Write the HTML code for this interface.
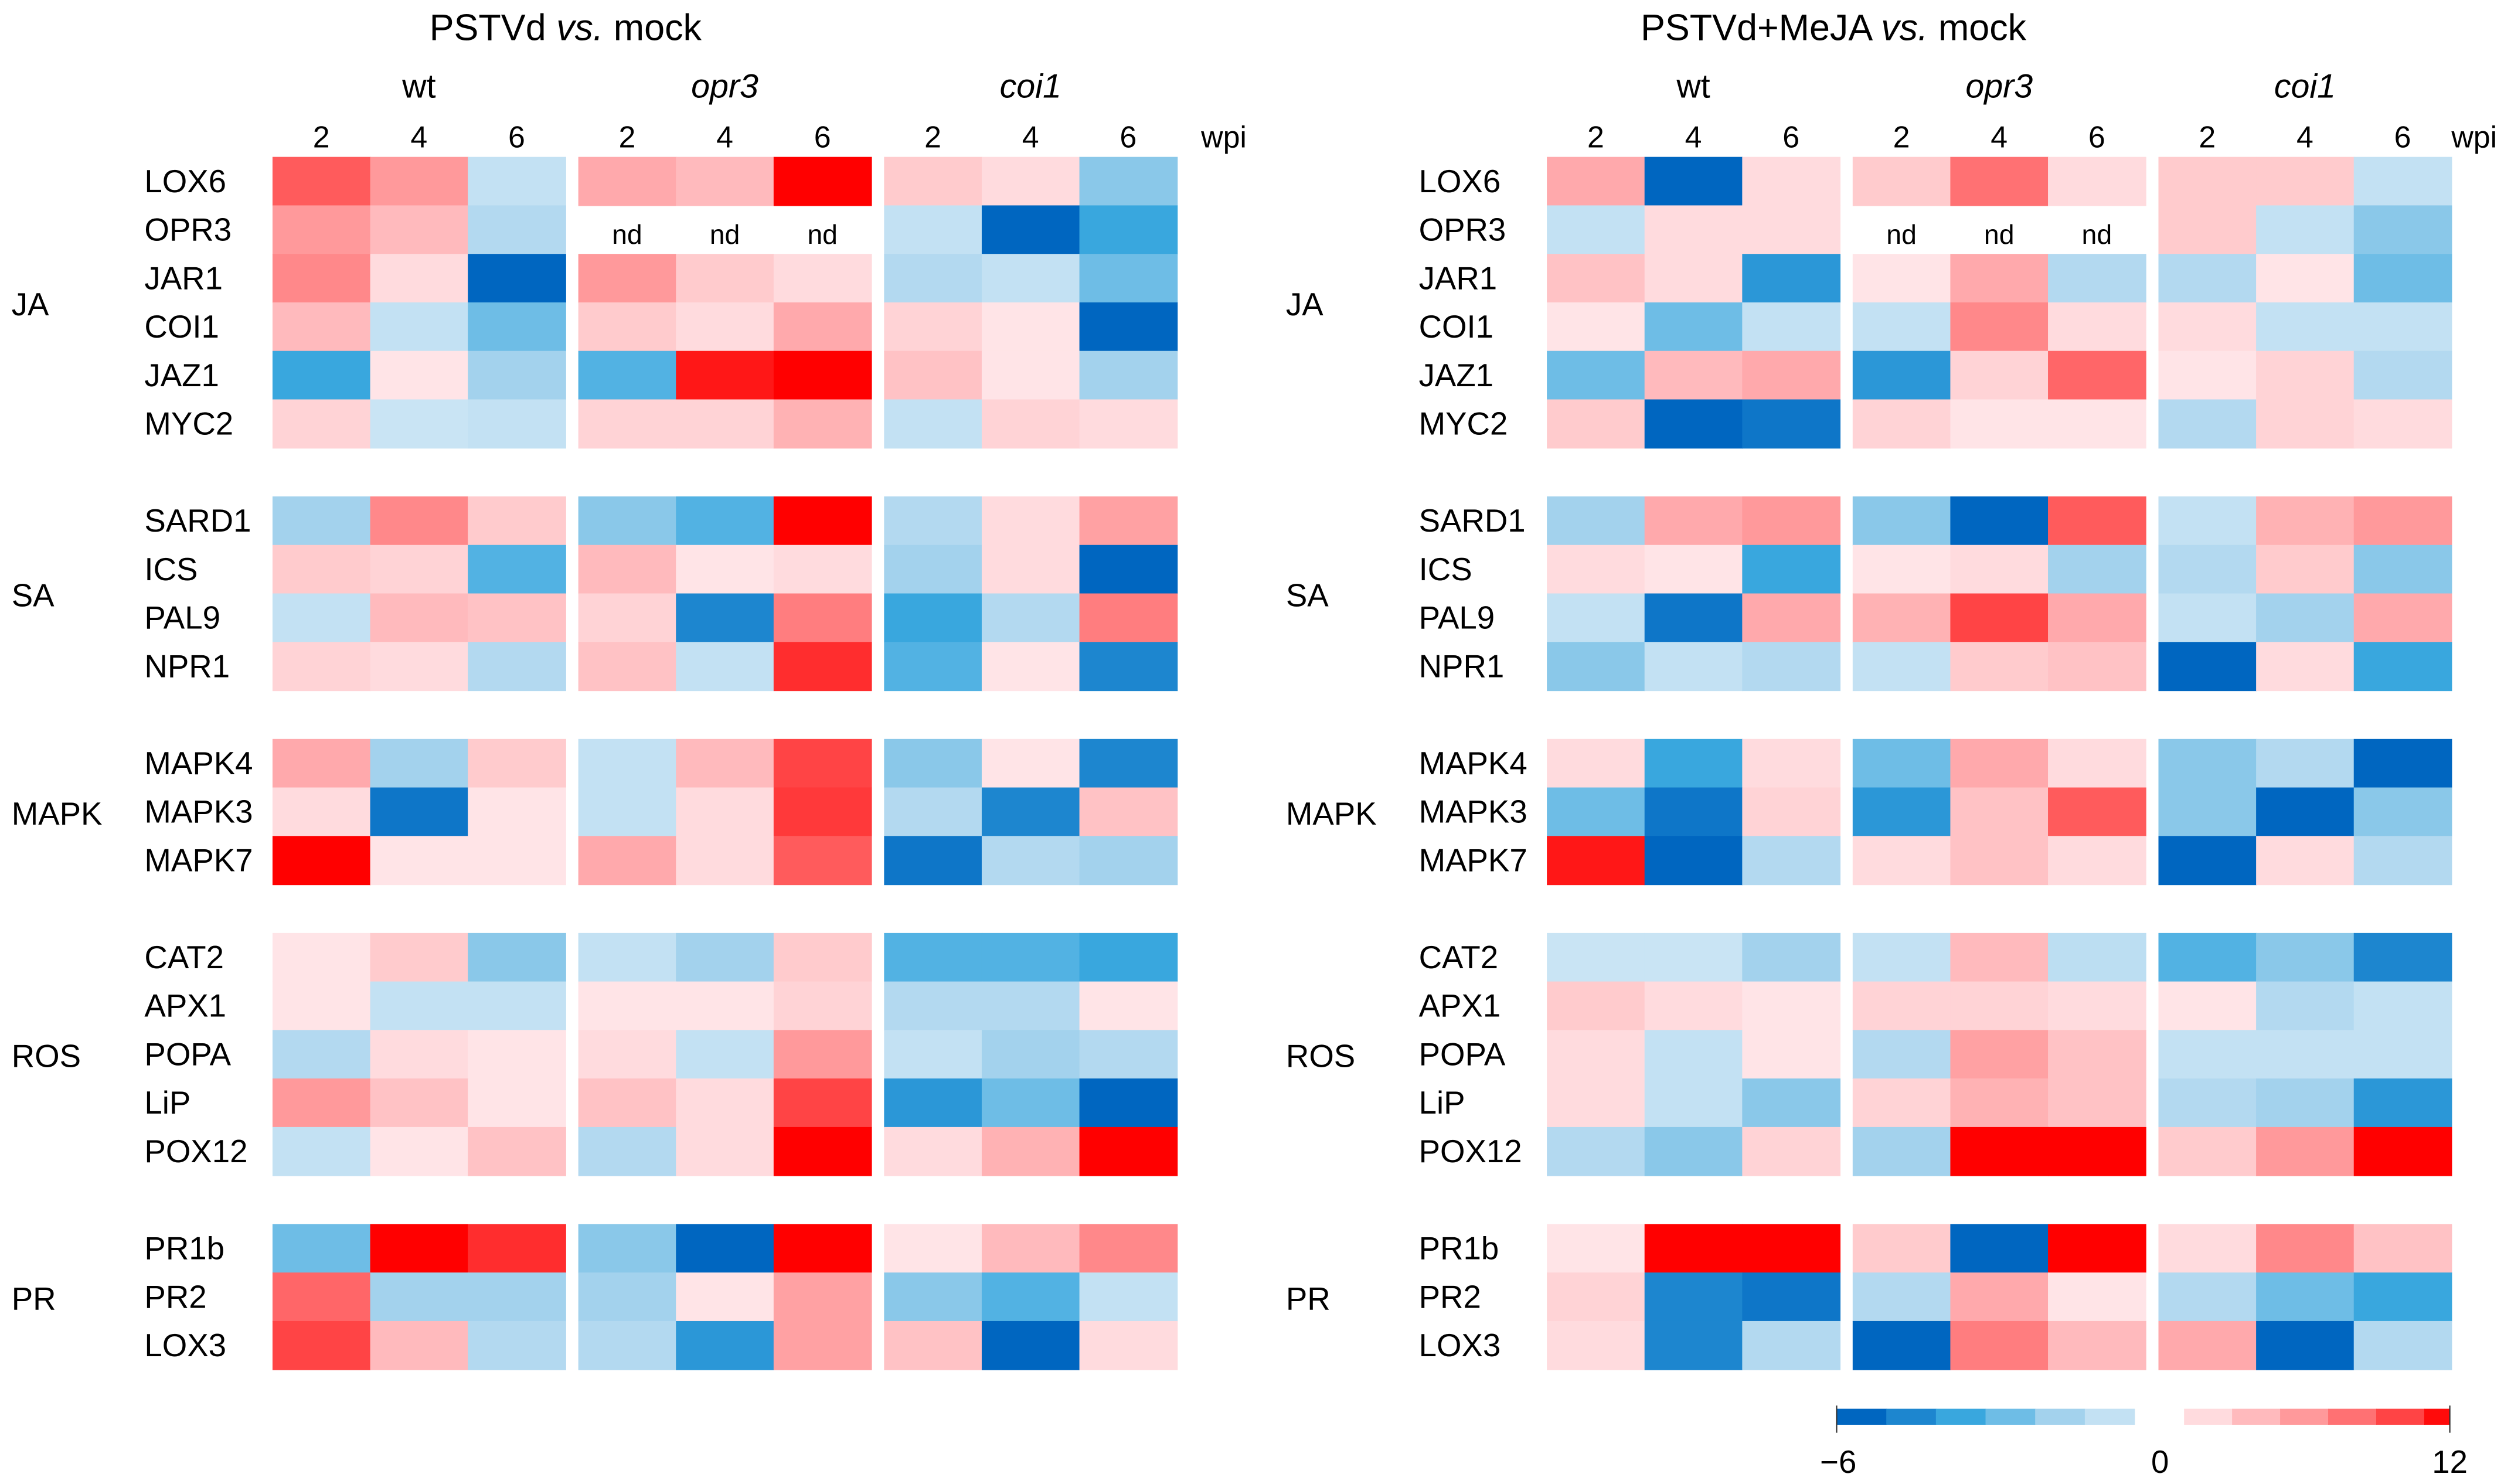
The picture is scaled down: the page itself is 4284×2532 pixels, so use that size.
<!DOCTYPE html>
<html><head><meta charset="utf-8"><style>html,body{margin:0;padding:0;background:#fff}svg{display:block}</style></head>
<body>
<svg id="chart" xmlns="http://www.w3.org/2000/svg" width="4284" height="2532" viewBox="0 0 1568 927" font-family="Liberation Sans, sans-serif">
<rect width="1568" height="927" fill="#fff"/>
</svg>
<script>
const genes = ["LOX6","OPR3","JAR1","COI1","JAZ1","MYC2","SARD1","ICS","PAL9","NPR1","MAPK4","MAPK3","MAPK7","CAT2","APX1","POPA","LiP","POX12","PR1b","PR2","LOX3"];
const rowIndex = [0,1,2,3,4,5,7,8,9,10,12,13,14,16,17,18,19,20,22,23,24];
const groups = ["JA","SA","MAPK","ROS","PR"];
const genotypes = ["wt","opr3","coi1"];
const times = ["2","4","6"];
const leftValues = [
[8,5,-1, 4,3,12, 2,1,-2.5],
[5,3,-1.5, null,null,null, -1,-6,-4],
[6,1,-6, 5,2,1, -1.5,-1,-3],
[3,-1,-3, 2,1,4, 1.5,0.5,-6],
[-4,0.5,-2, -3.5,11,12, 2.5,0.5,-2],
[1.5,-0.8,-1, 1.5,1.5,3.5, -1,1.5,1],
[-2,6,2, -2.5,-3.5,12, -1.5,1,4.5],
[2,1.5,-3.5, 3,0.5,1, -2,1,-6],
[-1,3,2.5, 1.5,-5,6.5, -4,-1.5,6.5],
[1.5,1,-1.5, 2.5,-1,10, -3.5,0.5,-5],
[4,-2,2, -1,3,9, -2.5,0.5,-5],
[1,-5.5,0.5, -1,1,9.5, -1.5,-5,2.5],
[12,0.5,0.5, 4,1,8, -5.5,-1.5,-2],
[0.5,2,-2.5, -1,-2,2, -3.5,-3.5,-4],
[0.5,-1,-1, 0.5,0.5,1.5, -1.5,-1.5,0.5],
[-1.5,1,0.5, 1,-1,5, -1,-2,-1.5],
[5,2.5,0.5, 2.5,1,9, -4.5,-3,-6],
[-1,0.5,2.5, -1.5,1,12, 1,3.5,12],
[-3,12,10, -2.5,-6,12, 0.5,3,6],
[7.5,-2,-2, -2,0.5,4.5, -2.5,-3.5,-1],
[9,3,-1.5, -1.5,-4.5,4.5, 2.5,-6,1]];
const rightValues = [
[4,-6,1, 2,7,1, 2,2,-1],
[-1,1,1, null,null,null, 2,-1,-2.5],
[2.5,1,-4.5, 0.5,4,-1.5, -1.5,0.5,-3],
[0.5,-3,-1, -1,6,1, 1,-1,-1],
[-3,3,4, -4.5,1.5,7.5, 0.5,1.5,-1.5],
[2,-6,-5.5, 1.5,0.5,0.5, -1.5,1.5,1],
[-2,4,5, -2.5,-6,8, -1,3.5,5],
[1,0.5,-4, 0.5,1,-2, -1.5,2,-2.5],
[-1,-5.5,4, 3.5,9,4, -1,-2,4],
[-2.5,-1,-1.5, -1,2,2.5, -6,1,-4],
[1,-4,1, -3,4,1, -2.5,-1.5,-6],
[-3,-5.5,1.5, -4.5,2.5,8, -2.5,-6,-2.5],
[11,-6,-1.5, 1,2.5,1, -6,1,-1.5],
[-0.8,-0.8,-2, -1,3,-1.2, -3.5,-2.5,-5],
[2,1,0.5, 1.5,1.5,1, 0.5,-1.5,-1],
[1,-1,0.5, -1.5,4.5,2.5, -1,-1,-1],
[1,-1,-2.5, 1.5,3.5,2.5, -1.5,-2,-4.5],
[-1.5,-2.5,1.5, -2,12,12, 2,5,12],
[0.5,12,12, 2,-6,12, 1,6,2.5],
[1.5,-5,-5.5, -1.5,4,0.5, -1.5,-3,-4],
[1,-5,-1.5, -6,6.5,3, 4,-6,-1.5]];
const scaleTicks = ["-6","0","12"];
const blueSteps = [-6,-5,-4,-3,-2,-1];
const redSteps = [1,3,5,7,9,11.5];

const svg = document.getElementById('chart');
const NS = "http://www.w3.org/2000/svg";
function mk(tag, attrs, parent){const e=document.createElementNS(NS,tag);for(const k in attrs)e.setAttribute(k,attrs[k]);(parent||svg).appendChild(e);return e;}
function lerp(a,b,t){return a.map((v,i)=>Math.round(v+(b[i]-v)*t));}
function stops(list,t){for(let i=1;i<list.length;i++){if(t<=list[i][0]){const s=list[i-1],e=list[i];return lerp(s[1],e[1],(t-s[0])/(e[0]-s[0]));}}return list[list.length-1][1];}
function color(v){
  if(v<0){const t=Math.min(1,-v/6);const c=stops([[0,[226,240,249]],[0.35,[160,208,236]],[0.65,[60,170,224]],[1,[0,102,192]]],t);return `rgb(${c})`;}
  const t=Math.min(1,v/12);const c=stops([[0,[255,236,239]],[0.5,[255,136,138]],[1,[255,0,0]]],t);return `rgb(${c})`;
}
const rowY = i => 98 + 30.3*i;
const colX = (panel,g,t) => [170,361,552][g] + 61*t + panel*796;
const groupRows = [[0,5],[7,10],[12,14],[16,20],[22,24]];
const titles = [["PSTVd ","vs.", " mock"],["PSTVd+MeJA ","vs."," mock"]];

[leftValues,rightValues].forEach((vals,p)=>{
  const off = p*796;
  const title = mk('text',{x:353+off+(p?-4:0),y:25,'font-size':23,'text-anchor':'middle'});
  
  
  title.innerHTML = `${titles[p][0]}<tspan font-style="italic">${titles[p][1]}</tspan>${titles[p][2]}`;
  genotypes.forEach((gn,g)=>{
    const h = mk('text',{x:colX(p,g,0)+91.5,y:61,'font-size':21,'text-anchor':'middle','font-style':g?'italic':'normal'});
    
    
    h.textContent=gn;
    times.forEach((tm,t)=>{
      const tx = mk('text',{x:colX(p,g,t)+30.5,y:92,'font-size':19,'text-anchor':'middle'});
      
      
      tx.textContent=tm;
    });
  });
  const w = mk('text',{x:p?1531:750,y:92,'font-size':19});
  
  
  w.textContent='wpi';
  genes.forEach((gene,r)=>{
    const y = rowY(rowIndex[r]);
    const gl = mk('text',{x:90+off,y:y+22,'font-size':20});
    
    
    gl.textContent=gene;
    vals[r].forEach((v,c)=>{
      const g=Math.floor(c/3), t=c%3, x=colX(p,g,t);
      if(v===null){
        const nd = mk('text',{x:x+30.5,y:y+24,'font-size':17,'text-anchor':'middle'});
        
        
        nd.textContent='nd';
        return;
      }
      const cell = mk('rect',{x:x,y:y,width:61.4,height:30.7,fill:color(v)});
      
      
    });
  });
  groups.forEach((gr,i)=>{
    const [a,b]=groupRows[i];
    const yc=(rowY(a)+rowY(b)+30.3)/2;
    const t = mk('text',{x:7+off,y:yc+8,'font-size':20});
    
    
    t.textContent=gr;
  });
});

// colour scale
const bx0=1147, bx1=1333, rx0=1364, rx1=1530, by=880, bh=10;
const bw=(bx1-bx0)/blueSteps.length;
blueSteps.forEach((v,i)=>{
  const r=mk('rect',{x:bx0+i*bw,y:by,width:bw+0.3,height:bh,fill:color(v)});
  
  
});
const segW=[30,30,30,30,30,16];
let sx=rx0;
redSteps.forEach((v,i)=>{
  const r=mk('rect',{x:sx,y:by,width:segW[i]*(rx1-rx0)/166+0.3,height:bh,fill:color(v)});
  
  
  sx+=segW[i]*(rx1-rx0)/166;
});
[bx0,rx1].forEach(x=>{const l=mk('line',{x1:x,x2:x,y1:by-2,y2:by+15,stroke:'#333','stroke-width':0.8});
  
  });
[1148,1349,1530].forEach((x,i)=>{
  const t=mk('text',{x:x,y:920,'font-size':20,'text-anchor':'middle'});
  
  
  t.textContent=scaleTicks[i].replace('-','\u2212');
});
</script>
</body></html>
